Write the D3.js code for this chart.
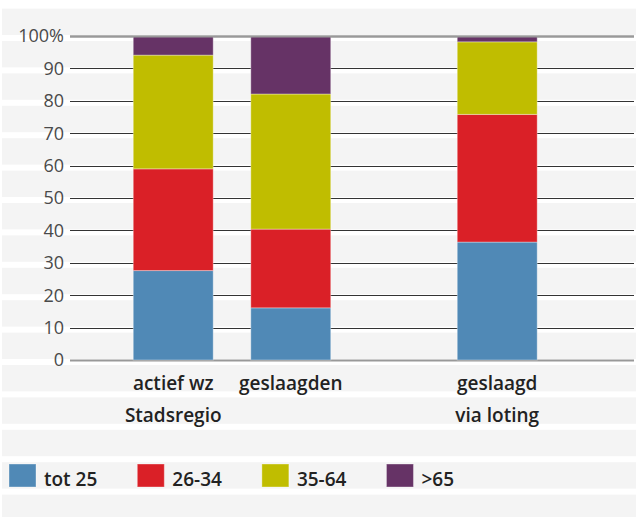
<!DOCTYPE html>
<html>
<head>
<meta charset="utf-8">
<style>
  body { margin: 0; background: #fff; }
  #chart text { font-family: "Open Sans", sans-serif; }
  .tick-label { font-size: 18px; fill: #4a4a4a; }
  .cat-label { font-size: 19px; font-weight: 600; fill: #222; text-anchor: middle; }
  .legend-label { font-size: 19px; font-weight: 600; fill: #222; }
</style>
<script src="https://d3js.org/d3.v7.min.js"></script>
</head>
<body>
<svg id="chart"></svg>
<script>
// categories, with the group each bar belongs to
var categories = ["actief wz Stadsregio", "geslaagden", "geslaagd via loting"];
var labelLines = [["actief wz", "Stadsregio"], ["geslaagden"], ["geslaagd", "via loting"]];
var groups = ["Stadsregio", "Stadsregio", "loting"];

// age classes (stacked from bottom to top), percentages
var series = ["tot 25", "26-34", "35-64", ">65"];
var tot25 = [27.6, 16.1, 36.4];
var age26_34 = [31.4, 24.3, 39.4];
var age35_64 = [35.1, 41.7, 22.4];
var age65 = [5.9, 17.9, 1.8];

var tickValues = [0, 10, 20, 30, 40, 50, 60, 70, 80, 90, 100];
var tickLabels = ["0", "10", "20", "30", "40", "50", "60", "70", "80", "90", "100%"];

var colors = ["#5089b6", "#da2027", "#c0bd00", "#663366"];

var width = 636, height = 517;
var left = 70, right = 634;
var groupWidth = 324;

var svg = d3.select("#chart").attr("width", width).attr("height", height);

var y = d3.scaleLinear().domain([0, 100]).range([360, 36]);
var rowH = y(0) - y(10);

// striped background rows
var rows = d3.range(-11, 5);
svg.append("g").selectAll("rect")
    .data(rows)
  .enter().append("rect")
    .attr("x", 2)
    .attr("y", function(k) { return y(0) + k * rowH + 5; })
    .attr("width", width - 2)
    .attr("height", rowH - 6)
    .attr("fill", "#f4f4f4");

// gridlines
svg.append("g").selectAll("line")
    .data(tickValues)
  .enter().append("line")
    .attr("x1", left).attr("x2", right)
    .attr("y1", function(d) { return Math.round(y(d)) + 0.5; })
    .attr("y2", function(d) { return Math.round(y(d)) + 0.5; })
    .attr("stroke", function(d) { return (d === 0 || d === 100) ? "#999" : "#333"; })
    .attr("stroke-width", function(d) { return (d === 0 || d === 100) ? 2 : 1; });

// tick labels
svg.append("g").selectAll("text")
    .data(tickValues)
  .enter().append("text")
    .attr("class", "tick-label")
    .attr("x", left - 6)
    .attr("y", function(d) { return y(d); })
    .attr("dy", "0.35em")
    .attr("text-anchor", "end")
    .text(function(d, i) { return tickLabels[i]; });

// x scales: groups, then bars inside a group
var xGroup = d3.scaleBand()
    .domain(["Stadsregio", "loting"])
    .range([left, left + 2 * groupWidth]);
var xInner = d3.scaleBand()
    .domain([0, 1])
    .range([0, groupWidth])
    .paddingInner(0.32)
    .paddingOuter(0.538);

function barX(i) {
  var g = groups[i];
  var idx = groups.slice(0, i).filter(function(d) { return d === g; }).length;
  return xGroup(g) + xInner(idx);
}

var table = categories.map(function(c, i) {
  return { cat: c, "tot 25": tot25[i], "26-34": age26_34[i], "35-64": age35_64[i], ">65": age65[i], i: i };
});
var stack = d3.stack().keys(series)(table);

var layers = svg.append("g").selectAll("g")
    .data(stack)
  .enter().append("g")
    .attr("fill", function(d, i) { return colors[i]; });

layers.selectAll("rect")
    .data(function(d) { return d; })
  .enter().append("rect")
    .attr("x", function(d) { return barX(d.data.i); })
    .attr("y", function(d) { return y(d[1]); })
    .attr("width", xInner.bandwidth())
    .attr("height", function(d) { return y(d[0]) - y(d[1]); })
    .attr("stroke", "rgba(255,255,255,0.35)")
    .attr("stroke-width", 1);

// top line over the bars
svg.append("line")
    .attr("x1", left).attr("x2", right)
    .attr("y1", y(100) + 0.5).attr("y2", y(100) + 0.5)
    .attr("stroke", "#999").attr("stroke-width", 2);

// category labels
var cat = svg.append("g").selectAll("text")
    .data(labelLines)
  .enter().append("text")
    .attr("class", "cat-label")
    .attr("x", function(d, i) { return barX(i) + xInner.bandwidth() / 2; });
cat.selectAll("tspan")
    .data(function(d) { return d; })
  .enter().append("tspan")
    .attr("x", function() { return d3.select(this.parentNode).attr("x"); })
    .attr("y", function(d, j) { return y(0) + 30 + j * rowH; })
    .text(function(d) { return d; });

// legend
var legend = svg.append("g");
var lx = 9;
series.forEach(function(s, i) {
  legend.append("rect")
      .attr("x", lx).attr("y", 464)
      .attr("width", 27).attr("height", 23)
      .attr("fill", colors[i])
      .attr("stroke", "rgba(255,255,255,0.35)");
  var t = legend.append("text")
      .attr("class", "legend-label")
      .attr("x", lx + 35).attr("y", 486)
      .text(s);
  lx = lx + 35 + t.node().getComputedTextLength() + 40;
});
</script>
</body>
</html>
